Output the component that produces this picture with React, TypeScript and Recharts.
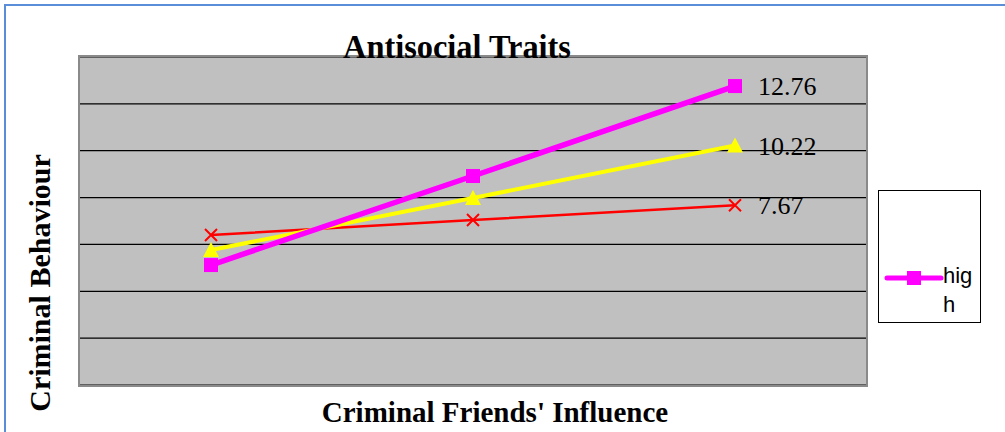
import { LineChart, Line, XAxis, YAxis, CartesianGrid, LabelList } from "recharts";

// x categories: criminal friends' influence level
const influence = ["low", "medium", "high"];
// criminal behaviour by antisocial traits level
const lowTraits = [6.4, 7.04, 7.67];
const mediumTraits = [5.76, 7.98, 10.22];
const highTraits = [5.12, 8.92, 12.76];
const yTicks = [0, 2, 4, 6, 8, 10, 12, 14];

const data = influence.map((name, i) => ({
  name,
  low: lowTraits[i],
  medium: mediumTraits[i],
  high: highTraits[i],
}));

const serif = "'Liberation Serif', 'Times New Roman', serif";
const sans = "'Liberation Sans', Arial, sans-serif";

// only the last point of each series carries a value label
const EndLabel = (props: any) => {
  const { x, y, value, index } = props;
  if (index !== influence.length - 1) return null;
  return (
    <text x={x + 23} y={y} dy={9} fontFamily={serif} fontSize={26} fill="#000">
      {value.toFixed(2)}
    </text>
  );
};

const Square = (props: any) => {
  const { cx, cy } = props;
  return <rect x={cx - 7} y={cy - 7} width={14} height={14} fill="#ff00ff" />;
};

const Triangle = (props: any) => {
  const { cx, cy } = props;
  return <polygon points={`${cx},${cy - 8} ${cx + 8},${cy + 7} ${cx - 8},${cy + 7}`} fill="#ffff00" />;
};

const Cross = (props: any) => {
  const { cx, cy } = props;
  return (
    <path d={`M${cx - 6},${cy - 6}L${cx + 6},${cy + 6}M${cx + 6},${cy - 6}L${cx - 6},${cy + 6}`} stroke="#ff0000" strokeWidth={2} />
  );
};

const LegendBox = () => (
  <div style={{ position: "absolute", left: 878, top: 190, width: 103, height: 133, border: "1.5px solid #000", background: "#fff", boxSizing: "border-box" }}>
    <svg width={60} height={20} style={{ position: "absolute", left: 5, top: 77 }}>
      <line x1={3} y1={10} x2={57} y2={10} stroke="#ff00ff" strokeWidth={5} strokeLinecap="round" />
      <rect x={23} y={3} width={14} height={14} fill="#ff00ff" />
    </svg>
    <div style={{ position: "absolute", left: 64, top: 70, width: 36, fontFamily: sans, fontSize: 22, lineHeight: "29px", color: "#000", wordBreak: "break-all" }}>
      high
    </div>
  </div>
);

export default function App() {
  return (
    <div style={{ position: "absolute", left: 0, top: 0, width: 1005, height: 432, background: "#fff" }}>
      <div style={{ position: "absolute", left: 4, top: 4, width: 1001, height: 426, borderLeft: "2px solid #5a8ed8", borderTop: "2px solid #5a8ed8", borderBottom: "2px solid #dde6f3" }} />
      <LineChart width={1005} height={432} data={data} margin={{ top: 57, right: 139, bottom: 47, left: 80 }} style={{ position: "absolute", left: 0, top: 0 }}>
        <CartesianGrid vertical={false} stroke="#000" strokeWidth={1.2} fill="#c0c0c0" fillOpacity={1} />
        <XAxis dataKey="name" hide padding={{ left: 131, right: 131 }} />
        <YAxis hide domain={[0, 14]} ticks={yTicks} />
        <Line dataKey="low" stroke="#ff0000" strokeWidth={2.5} dot={<Cross />} isAnimationActive={false}>
          <LabelList dataKey="low" content={<EndLabel />} />
        </Line>
        <Line dataKey="medium" stroke="#ffff00" strokeWidth={4} dot={<Triangle />} isAnimationActive={false}>
          <LabelList dataKey="medium" content={<EndLabel />} />
        </Line>
        <Line dataKey="high" stroke="#ff00ff" strokeWidth={5.5} dot={<Square />} isAnimationActive={false}>
          <LabelList dataKey="high" content={<EndLabel />} />
        </Line>
      </LineChart>
      {/* plot area frame */}
      <div style={{ position: "absolute", left: 78, top: 55, width: 790, height: 332, border: "2px solid #8a8a8a", boxSizing: "border-box", pointerEvents: "none" }} />
      <LegendBox />
      <div style={{ position: "absolute", left: 257, top: 29, width: 400, textAlign: "center", fontFamily: serif, fontWeight: "bold", fontSize: 33, lineHeight: "37px", transform: "scaleX(0.98)" }}>
        Antisocial Traits
      </div>
      <div style={{ position: "absolute", left: 195, top: 395, width: 600, textAlign: "center", fontFamily: serif, fontWeight: "bold", fontSize: 29, lineHeight: "34px" }}>
        Criminal Friends' Influence
      </div>
      <div style={{ position: "absolute", left: 40, top: 283, width: 320, marginLeft: -160, marginTop: -17, textAlign: "center", transform: "rotate(-90deg)", fontFamily: serif, fontWeight: "bold", fontSize: 30, lineHeight: "34px" }}>
        Criminal Behaviour
      </div>
    </div>
  );
}
